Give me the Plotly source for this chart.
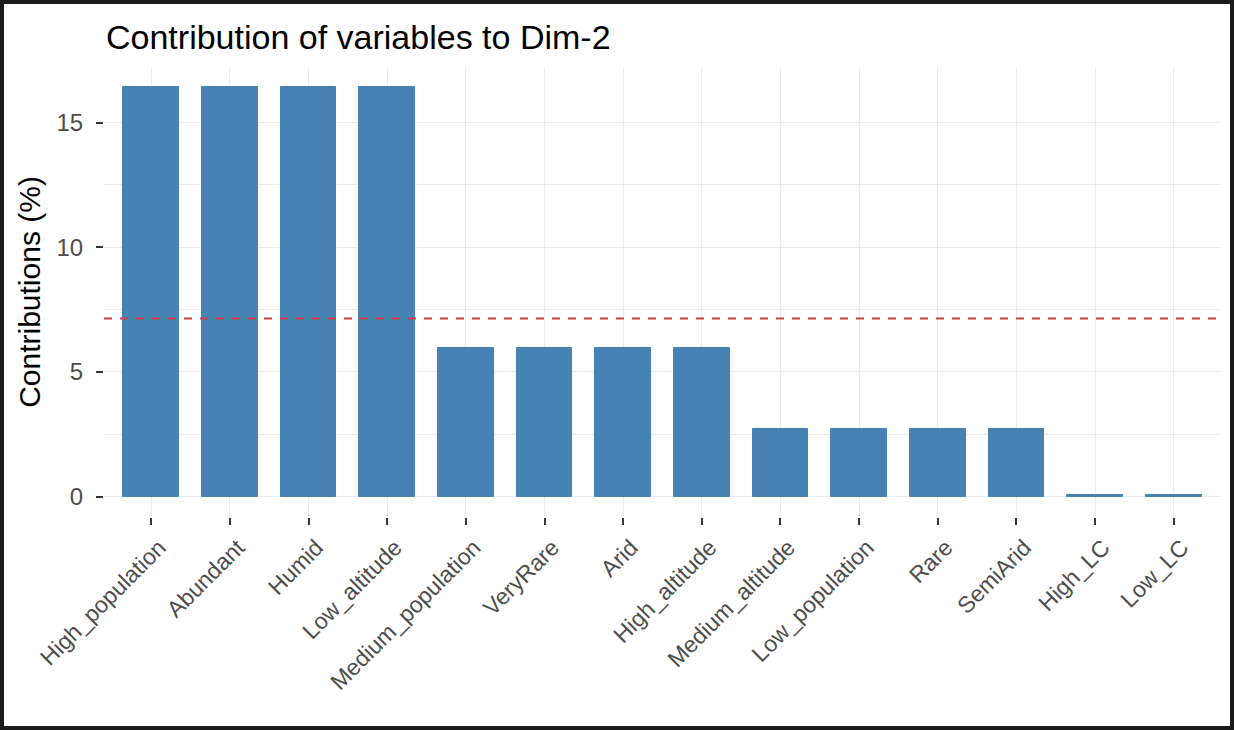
import plotly.graph_objects as go

# contributions of variables to Dim-2
variables = ["High_population", "Abundant", "Humid", "Low_altitude",
             "Medium_population", "VeryRare", "Arid", "High_altitude",
             "Medium_altitude", "Low_population", "Rare", "SemiArid",
             "High_LC", "Low_LC"]
contrib = [16.41, 16.41, 16.41, 16.41,
           5.95, 5.95, 5.95, 5.95,
           2.71, 2.71, 2.71, 2.71,
           0.06, 0.06]
expected = 100 / len(variables)   # red reference line
y_ticks = [0, 5, 10, 15]

W, H = 1234, 730
ml, mr, mt, mb = 104, 13, 67, 213

steel = "#4682B4"
grid = "#EBEBEB"
font_family = "Liberation Sans, Arial, sans-serif"

pos = list(range(len(variables)))

fig = go.Figure()
fig.add_trace(go.Bar(
    x=pos, y=contrib, width=0.71,
    marker=dict(color=steel, line=dict(color=steel, width=1)),
    hoverinfo="x+y", showlegend=False,
))

fig.add_hline(y=expected, line=dict(color="#C94040", width=2, dash="8px,8px"),
              layer="above")

# dark frame around the whole picture
pw = W - ml - mr
ph = H - mt - mb
fig.add_shape(type="rect", xref="paper", yref="paper",
              x0=-ml / pw, x1=1 + mr / pw, y0=-mb / ph, y1=1 + mt / ph,
              line=dict(color="#1c1c1c", width=8), fillcolor="rgba(0,0,0,0)",
              layer="above")

fig.update_layout(
    width=W, height=H,
    margin=dict(l=ml, r=mr, t=mt, b=mb, pad=0, autoexpand=False),
    paper_bgcolor="white", plot_bgcolor="white",
    font=dict(family=font_family),
    bargap=0,
    title=dict(text="Contribution of variables to Dim-2",
               font=dict(size=34, color="black", family=font_family),
               x=106 / W, xref="container", xanchor="left",
               y=1 - 37 / H, yref="container", yanchor="middle"),
)

fig.update_xaxes(
    range=[-0.6, len(variables) - 0.4],
    tickmode="array", tickvals=pos, ticktext=variables,
    tickangle=-45,
    tickfont=dict(size=23, color="#4D4D4D"),
    ticks="outside", ticklen=7, tickwidth=1.5, tickcolor="#333333",
    ticklabelshift=8,
    showgrid=True, gridcolor=grid, gridwidth=1.3,
    zeroline=False, showline=False,
)

fig.update_yaxes(
    range=[-0.82, 17.23],
    tickmode="array", tickvals=y_ticks,
    tickfont=dict(size=24, color="#4D4D4D"),
    ticks="outside", ticklen=7, tickwidth=1.5, tickcolor="#333333",
    ticklabelstandoff=8,
    showgrid=True, gridcolor=grid, gridwidth=1.3,
    minor=dict(tickmode="array", tickvals=[2.5, 7.5, 12.5],
               showgrid=True, gridcolor=grid, gridwidth=1, ticks=""),
    zeroline=False, showline=False,
    title=dict(text="Contributions (%)", standoff=6,
               font=dict(size=30, color="black")),
)

fig.write_html("out.html", config={"displayModeBar": False},
               post_script="document.body.style.margin='0';")
